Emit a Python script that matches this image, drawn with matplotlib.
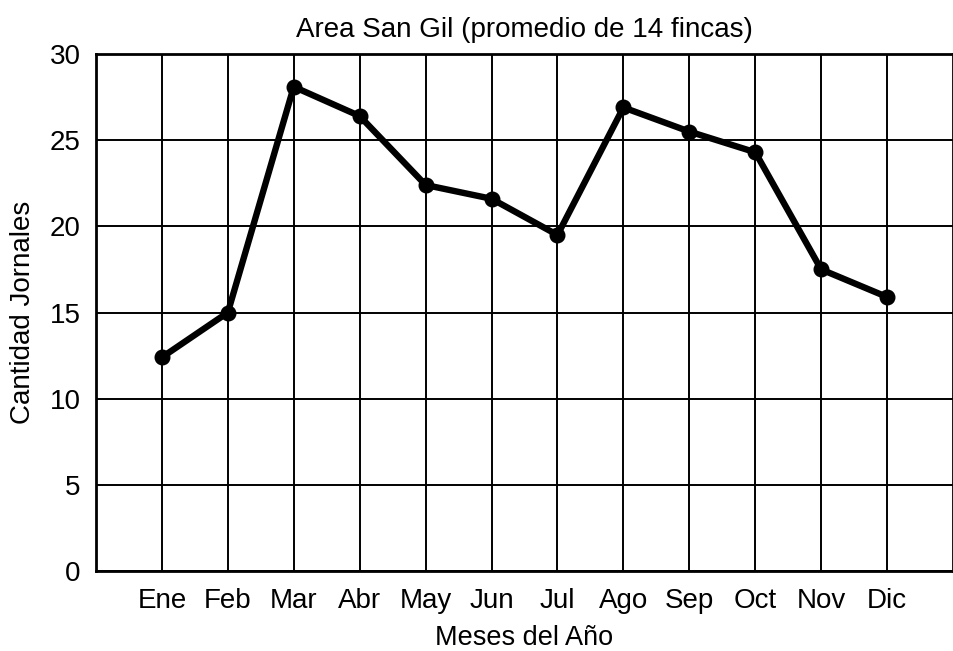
import matplotlib.pyplot as plt

plt.rcParams['font.family'] = ['Liberation Sans', 'DejaVu Sans']

meses = ["Ene", "Feb", "Mar", "Abr", "May", "Jun", "Jul",
         "Ago", "Sep", "Oct", "Nov", "Dic"]
posiciones = [1, 2, 3, 4, 5, 6, 7, 8, 9, 10, 11, 12]
jornales = [12.4, 15.0, 28.1, 26.4, 22.4, 21.6, 19.5, 26.9, 25.5, 24.3, 17.5, 15.9]
y_ticks = [0, 5, 10, 15, 20, 25, 30]


def main():
    fig = plt.figure(figsize=(9.54, 6.51), dpi=100)
    ax = fig.add_axes([0.1006, 0.1229, 0.8984, 0.7941])

    ax.plot(posiciones, jornales, color="black", lw=4.6, marker="o",
            markersize=10.5, solid_joinstyle="round", zorder=3)

    ax.set_xlim(0, 13)
    ax.set_ylim(0, 30)
    ax.set_xticks(posiciones)
    ax.set_xticklabels(meses)
    ax.set_yticks(y_ticks)

    ax.grid(True, color="black", lw=1.4)
    ax.set_axisbelow(True)
    for s in ax.spines.values():
        s.set_linewidth(2)
        s.set_color("black")

    ax.tick_params(axis="both", length=0, labelsize=20)
    ax.tick_params(axis="x", pad=12)
    ax.tick_params(axis="y", pad=11)

    ax.set_title("Area San Gil (promedio de 14 fincas)", fontsize=20, pad=12)
    ax.set_xlabel("Meses del Año", fontsize=19.5, labelpad=8)
    ax.set_ylabel("Cantidad Jornales", fontsize=20, labelpad=10)

    fig.savefig("out.png", dpi=100)


if __name__ == '__main__':
    main()
